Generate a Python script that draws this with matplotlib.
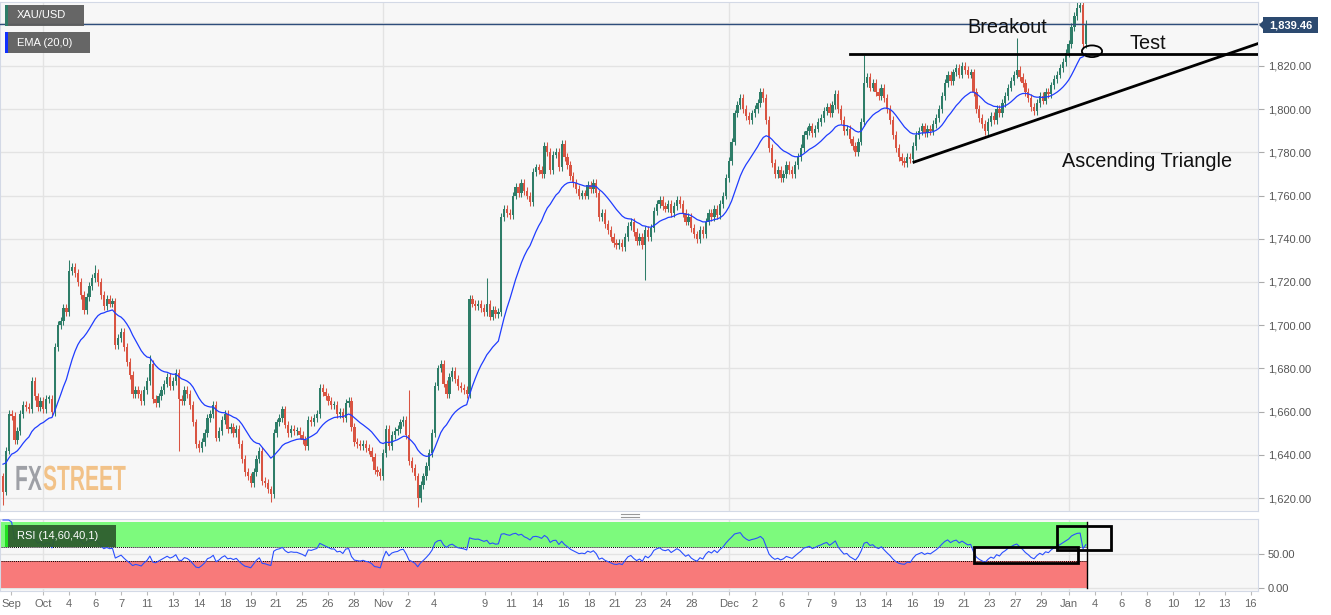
import matplotlib
matplotlib.use("Agg")
import matplotlib.pyplot as plt
from matplotlib.patches import Rectangle, Ellipse, PathPatch
from matplotlib.lines import Line2D
from matplotlib.textpath import TextPath
from matplotlib.font_manager import FontProperties
from matplotlib.transforms import IdentityTransform, Affine2D
import numpy as np
import pandas as pd

plt.rcParams['font.family'] = ['Liberation Sans', 'DejaVu Sans']

# XAU/USD 4h closes, end of Sep -> Jan 3
closes = [
    1623, 1642, 1659, 1658, 1647, 1651, 1659, 1663, 1662, 1661,
    1674, 1667, 1662, 1665, 1661, 1666, 1666, 1660, 1690, 1700,
    1702, 1708, 1706, 1725, 1727, 1724, 1720, 1714, 1707, 1713,
    1718, 1722, 1724, 1720, 1714, 1709, 1712, 1710, 1711, 1691,
    1694, 1697, 1690, 1683, 1677, 1668, 1670, 1668, 1665, 1670,
    1674, 1682, 1666, 1664, 1667, 1670, 1673, 1676, 1672, 1674,
    1678, 1666, 1665, 1670, 1668, 1663, 1655, 1645, 1643, 1646,
    1650, 1657, 1659, 1663, 1648, 1651, 1656, 1659, 1652, 1653,
    1650, 1652, 1645, 1638, 1632, 1630, 1627, 1632, 1638, 1642,
    1628, 1627, 1624, 1622, 1650, 1655, 1657, 1661, 1654, 1650,
    1652, 1651, 1651, 1649, 1647, 1644, 1656, 1655, 1657, 1659,
    1671, 1669, 1667, 1665, 1663, 1663, 1659, 1660, 1657, 1664,
    1665, 1653, 1646, 1645, 1644, 1645, 1643, 1642, 1639, 1633,
    1632, 1630, 1641, 1652, 1644, 1649, 1651, 1652, 1655, 1656,
    1649, 1637, 1634, 1630, 1620, 1626, 1630, 1635, 1641, 1650,
    1672, 1680, 1682, 1673, 1668, 1676, 1679, 1675, 1672, 1671,
    1670, 1668, 1712, 1710, 1709, 1710, 1708, 1706, 1710, 1704,
    1707, 1705, 1706, 1750, 1754, 1752, 1751, 1760, 1764, 1761,
    1766, 1762, 1760, 1757, 1771, 1773, 1772, 1770, 1783, 1780,
    1772, 1779, 1780, 1773, 1784, 1778, 1774, 1769, 1766, 1763,
    1760, 1761, 1760, 1765, 1763, 1766, 1761, 1750, 1752, 1747,
    1744, 1741, 1738, 1737, 1738, 1736, 1741, 1746, 1748, 1743,
    1739, 1741, 1737, 1744, 1741, 1745, 1753, 1756, 1758, 1755,
    1754, 1756, 1752, 1755, 1758, 1756, 1752, 1748, 1750, 1745,
    1742, 1740, 1744, 1742, 1748, 1752, 1750, 1754, 1751, 1756,
    1760, 1768, 1776, 1785, 1798, 1802, 1805, 1800, 1797, 1795,
    1798, 1800, 1803, 1808, 1805, 1795, 1782, 1775, 1770, 1772,
    1768, 1770, 1774, 1772, 1770, 1774, 1778, 1782, 1788, 1790,
    1792, 1789, 1791, 1794, 1796, 1799, 1801, 1798, 1802, 1807,
    1800, 1795, 1790, 1791, 1786, 1783, 1780, 1785, 1794, 1812,
    1815, 1810, 1812, 1808, 1806, 1810, 1805, 1800, 1795, 1788,
    1782, 1778, 1776, 1775, 1778, 1777, 1783, 1788, 1790, 1792,
    1789, 1791, 1790, 1793, 1796, 1800, 1806, 1812, 1816, 1813,
    1817, 1819, 1816, 1820, 1818, 1816, 1817, 1808, 1800, 1796,
    1793, 1790, 1794, 1797, 1795, 1800, 1798, 1803, 1806, 1810,
    1813, 1816, 1818, 1815, 1812, 1808, 1805, 1801, 1799, 1803,
    1806, 1804, 1808, 1807, 1811, 1814, 1816, 1819, 1822, 1826,
    1830, 1838, 1843, 1847, 1848, 1830, 1839.46,
]
first_open = 1630
# wicks that stand out from the usual short shadows
spike_highs = {23: 1730, 32: 1728, 51: 1686, 141: 1670, 168: 1722,
               263: 1810, 299: 1825, 352: 1833, 373: 1851}
spike_lows = {0: 1617, 61: 1642, 93: 1618, 144: 1616, 223: 1721}
ema_start = 1637
last_price = 1839.46

# x axis labels and their pixel positions on the original chart
tick_labels = ["Sep", "Oct", "4", "6", "7", "11", "13", "14", "18", "19", "21", "25",
               "26", "28", "Nov", "2", "4", "9", "11", "14", "16", "18", "21", "23",
               "24", "28", "Dec", "2", "6", "7", "9", "13", "14", "16", "19", "21",
               "23", "27", "29", "Jan", "4", "6", "8", "10", "12", "13", "16"]
tick_px = [11, 43.3, 69.3, 95.3, 121.3, 147, 173, 199, 225, 250.7, 276, 302,
           328, 354, 382.7, 408, 434, 485, 511, 537, 563, 589, 615, 641,
           666, 692, 729, 755, 782, 808, 834, 860, 886, 912, 938, 964,
           989.3, 1015.3, 1041.3, 1069.3, 1095.3, 1121.3, 1147.3, 1173.3, 1199.3, 1224.7, 1250.7]
month_px = [43.3, 382.7, 729, 1069.3]

W, H = 1331, 615
PX0, PXSTEP = 3.0, 2.88   # candle spacing in the original


def px2idx(px):
    return (px - PX0) / PXSTEP


closes = np.array(closes, dtype=float)
n = len(closes)
idx = np.arange(n)
opens = np.concatenate([[first_open], closes[:-1]])
highs = np.maximum(opens, closes) + 1.8
lows = np.minimum(opens, closes) - 1.8
for k, v in spike_highs.items():
    highs[k] = v
for k, v in spike_lows.items():
    lows[k] = v

# EMA 20
ema = []
e = ema_start
for c in closes:
    e = e + (c - e) * 2 / 21
    ema.append(e)

# RSI 14
delta = pd.Series(closes).diff()
gain = delta.clip(lower=0).ewm(alpha=1 / 14, adjust=True).mean()
loss = (-delta.clip(upper=0)).ewm(alpha=1 / 14, adjust=True).mean()
rsi = (100 - 100 / (1 + gain / loss)).bfill().values

green, red = "#2e7d68", "#d95442"
border = "#d3d9e6"
gridc = "#e3e3e3"

fig = plt.figure(figsize=(W / 100, H / 100), dpi=100)
fig.patch.set_facecolor("white")
ax = fig.add_axes([0, 1 - 511 / H, 1258 / W, 509 / H])
rax = fig.add_axes([0, 1 - 591 / H, 1258 / W, 72 / H])

xmin, xmax = px2idx(0), px2idx(1258)

for a in (ax, rax):
    a.set_facecolor("#f7f7f7")
    a.set_xlim(xmin, xmax)
    for s in a.spines.values():
        s.set_color(border)
    a.yaxis.tick_right()
    a.tick_params(axis="y", colors="#aaaaaa", labelcolor="#555555", labelsize=8, length=4, pad=3)
    a.set_axisbelow(True)
    for m in month_px:
        a.axvline(px2idx(m), color=gridc, lw=1, zorder=0)

# main panel
ax.set_ylim(1614, 1849.6)
yt = np.arange(1620, 1841, 20)
ax.set_yticks(yt)
ax.set_yticklabels([f"{v:,.2f}" for v in yt])
ax.yaxis.grid(True, color=gridc, lw=1)
ax.set_xticks([])

col = np.where(closes >= opens, green, red)
ax.vlines(idx, lows, highs, colors=col, lw=0.75, zorder=2)
body = np.maximum(np.abs(closes - opens), 0.6)
ax.bar(idx, body, bottom=np.minimum(opens, closes), width=0.8, color=col, zorder=3)
ax.plot(idx, ema, color="#1f3cff", lw=0.9, zorder=4)
ax.axhline(last_price, color="#2e4d7b", lw=1, zorder=5)

# breakout / triangle drawings
ax.plot([px2idx(850), xmax], [1825.3, 1825.3], color="black", lw=2, zorder=6)
ax.plot([px2idx(914), px2idx(1262)], [1775.5, 1831.0], color="black", lw=2, zorder=6)
ax.add_patch(Ellipse((px2idx(1092), 1826.8), 7.0, 5.4, fill=False, edgecolor="black", lw=1.3, zorder=7))
ax.text(px2idx(1007), 1837.6, "Breakout", ha="center", va="center", fontsize=14.3, color="#111111", zorder=7)
ax.text(px2idx(1148), 1830.2, "Test", ha="center", va="center", fontsize=14.3, color="#111111", zorder=7)
ax.text(px2idx(1147), 1776.0, "Ascending Triangle", ha="center", va="center", fontsize=14.3,
        color="#111111", zorder=7)

# RSI panel
rax.set_ylim(-4.4, 101.5)
rax.set_yticks([0, 50])
rax.set_yticklabels(["0.00", "50.00"])
rax.yaxis.grid(True, color=gridc, lw=1)
end = px2idx(1087.3)
rax.add_patch(Rectangle((xmin, 60), end - xmin, 37, facecolor="#7dfa7d", edgecolor="none", zorder=1))
rax.add_patch(Rectangle((xmin, 0), end - xmin, 40, facecolor="#f87a7a", edgecolor="none", zorder=1))
rax.plot([xmin, end], [60, 60], color="black", lw=0.7, ls=(0, (1, 1)), zorder=2)
rax.plot([xmin, end], [40, 40], color="black", lw=0.7, ls=(0, (1, 1)), zorder=2)
rax.plot([end, end], [0, 97], color="black", lw=1, zorder=2)
rax.plot(idx, rsi, color="#2a4fff", lw=0.8, zorder=3)
rax.add_patch(Rectangle((px2idx(974), 37.2), px2idx(1078) - px2idx(974), 23.5, fill=False,
                        edgecolor="black", lw=2, zorder=4))
rax.add_patch(Rectangle((px2idx(1056.7), 55.9), px2idx(1111.3) - px2idx(1056.7), 35.7, fill=False,
                        edgecolor="black", lw=2, zorder=4))
rax.set_xticks([px2idx(p) for p in tick_px])
rax.set_xticklabels(tick_labels)
rax.tick_params(axis="x", colors="#bbbbbb", labelcolor="#666666", labelsize=8, length=3, pad=3)

# label boxes (pixel coordinates, top-left origin)
ID = IdentityTransform()


def label_box(x0, y0, x1, y1, face, strip, text, alpha=0.95):
    fig.add_artist(Rectangle((x0, H - y1), x1 - x0, y1 - y0, transform=ID,
                             facecolor=face, edgecolor="none", alpha=alpha, zorder=10))
    fig.add_artist(Rectangle((x0, H - y1), 2.5, y1 - y0, transform=ID,
                             facecolor=strip, edgecolor="none", zorder=11))
    fig.text(x0 + 12, H - (y0 + y1) / 2, text, transform=ID, color="white",
             fontsize=8, va="center", ha="left", zorder=12)


label_box(5, 5, 84, 26, "#5e5e5e", "#2e7d68", "XAU/USD")
label_box(5, 32, 90, 53, "#5e5e5e", "#1030ff", "EMA (20,0)")
label_box(5, 525, 116, 547, "#2e5e2e", "#22e022", "RSI (14,60,40,1)")

# last price tag on the right scale
fig.add_artist(Rectangle((1263, H - 33), 55, 16, transform=ID, facecolor="#2c4a70",
                         edgecolor="none", zorder=10))
fig.add_artist(plt.Polygon([[1259, H - 25], [1263, H - 21], [1263, H - 29]], closed=True,
                           transform=ID, facecolor="#2c4a70", edgecolor="none", zorder=10))
fig.text(1290.5, H - 25, f"{last_price:,.2f}", transform=ID, color="white", fontsize=8,
         fontweight="bold", ha="center", va="center", zorder=11)

# panel resize handle
for yy in (514, 517):
    fig.add_artist(Line2D([621, 639], [H - yy, H - yy], transform=ID, color="#999999", lw=0.8))

# FXSTREET watermark
fp = FontProperties(family="Liberation Sans", weight="bold")
for txt, x0, colr in (("FX", 15, "#9ea0a6"), ("STREET", 43, "#f2c288")):
    tp = TextPath((0, 0), txt, size=35, prop=fp)
    tr = Affine2D().scale(0.6, 1).translate(x0, H - 490)
    fig.add_artist(PathPatch(tr.transform_path(tp), transform=ID, facecolor=colr,
                             edgecolor="none", zorder=9))

fig.savefig("out.png", dpi=100)
